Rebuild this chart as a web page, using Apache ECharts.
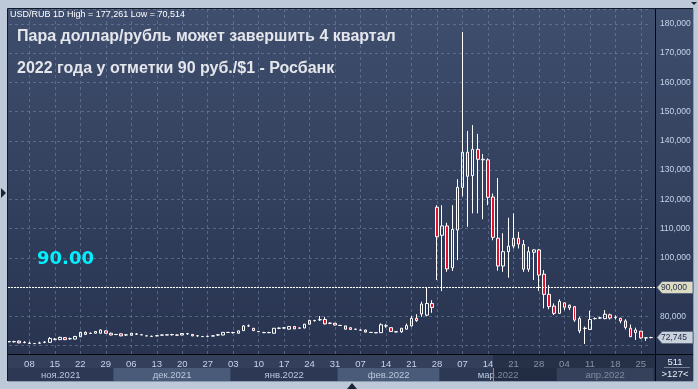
<!DOCTYPE html>
<html><head><meta charset="utf-8">
<script src="https://cdn.jsdelivr.net/npm/echarts@6/dist/echarts.min.js"></script>
<style>html,body{margin:0;padding:0;background:#bdc9d9;overflow:hidden}#c{width:698px;height:389px}</style>
</head><body><div id="c"></div>
<script>
const dates = [
'2021-11-02','2021-11-03','2021-11-04','2021-11-05','2021-11-08','2021-11-09','2021-11-10','2021-11-11','2021-11-12','2021-11-15','2021-11-16','2021-11-17','2021-11-18','2021-11-19','2021-11-22','2021-11-23','2021-11-24','2021-11-25','2021-11-26','2021-11-29','2021-11-30',
'2021-12-01','2021-12-02','2021-12-03','2021-12-06','2021-12-07','2021-12-08','2021-12-09','2021-12-10','2021-12-13','2021-12-14','2021-12-15','2021-12-16','2021-12-17','2021-12-20','2021-12-21','2021-12-22','2021-12-23','2021-12-24','2021-12-27','2021-12-28','2021-12-29','2021-12-30','2021-12-31',
'2022-01-03','2022-01-04','2022-01-05','2022-01-06','2022-01-07','2022-01-10','2022-01-11','2022-01-12','2022-01-13','2022-01-14','2022-01-17','2022-01-18','2022-01-19','2022-01-20','2022-01-21','2022-01-24','2022-01-25','2022-01-26','2022-01-27','2022-01-28','2022-01-31',
'2022-02-01','2022-02-02','2022-02-03','2022-02-04','2022-02-07','2022-02-08','2022-02-09','2022-02-10','2022-02-11','2022-02-14','2022-02-15','2022-02-16','2022-02-17','2022-02-18','2022-02-21','2022-02-22','2022-02-23','2022-02-24','2022-02-25','2022-02-28',
'2022-03-01','2022-03-02','2022-03-03','2022-03-04','2022-03-07','2022-03-08','2022-03-09','2022-03-10','2022-03-11','2022-03-14','2022-03-15','2022-03-16','2022-03-17','2022-03-18','2022-03-21','2022-03-22','2022-03-23','2022-03-24','2022-03-25','2022-03-28','2022-03-29','2022-03-30','2022-03-31',
'2022-04-01','2022-04-04','2022-04-05','2022-04-06','2022-04-07','2022-04-08','2022-04-11','2022-04-12','2022-04-13','2022-04-14','2022-04-15','2022-04-18','2022-04-19','2022-04-20','2022-04-21','2022-04-22','2022-04-25','2022-04-26','2022-04-27'
];
const openPrices = [
71.3,71.3,71.5,71.0,70.8,70.7,70.8,71.1,71.1,72.1,72.0,72.7,72.3,72.2,73.0,74.5,74.2,74.2,74.2,75.0,74.2,
73.8,74.0,73.6,73.5,73.9,73.7,73.3,73.1,73.3,73.6,73.6,73.7,73.6,73.6,74.0,73.8,73.3,73.1,73.1,73.3,73.6,73.6,74.5,
74.4,74.2,75.1,76.7,75.9,74.8,74.4,74.4,74.2,75.9,76.0,75.6,76.5,76.0,76.0,77.3,78.5,78.8,78.9,77.6,77.6,
76.9,76.7,76.1,75.6,75.3,75.3,74.5,74.4,74.4,76.7,76.1,74.7,74.7,75.6,76.7,79.3,80.8,80.4,84.4,117.3,
107.7,110.9,96.6,109.5,124.1,136.1,128.1,137.1,133.7,133.5,120.8,106.7,97.2,102.1,104.0,106.7,104.6,96.1,101.9,102.7,94.4,87.5,83.5,
81.0,84.6,83.8,83.3,79.2,75.9,75.5,79.2,79.4,79.2,80.5,79.6,79.3,78.4,75.9,74.4,74.9,72.65,72.7
];
const closePrices = [
71.3,71.35,70.9,71.1,70.75,70.65,70.85,71.15,72.4,72.2,72.8,72.0,72.35,73.1,74.5,73.8,74.15,74.8,75.3,74.2,73.6,
73.75,73.3,73.65,74.2,73.95,73.65,73.3,73.15,73.35,73.55,73.65,73.75,73.55,74.1,74.05,73.3,73.35,73.05,73.15,73.25,73.65,74.5,74.45,
74.45,75.0,76.7,76.75,75.1,74.75,74.45,74.45,75.9,75.95,76.05,76.5,75.7,75.95,77.3,78.6,78.55,78.85,77.4,77.65,77.0,
76.85,75.6,75.5,75.55,75.25,74.6,74.45,74.35,77.1,76.75,74.8,74.65,75.9,76.8,79.3,78.5,84.2,84.4,83.0,107.2,
110.9,96.2,109.7,124.1,136.1,127.9,137.1,133.7,133.5,120.7,107.0,97.2,102.1,104.0,106.7,104.7,96.1,102.1,102.7,94.1,87.5,83.3,81.0,
85.1,83.1,82.9,78.7,75.0,75.85,78.9,79.25,79.45,80.7,79.4,79.65,78.4,76.2,73.0,75.3,72.6,72.6,72.745
];
const lowPrices = [
71.2,71.0,70.8,70.8,70.7,70.55,70.7,70.8,71.0,71.8,71.9,71.9,72.0,72.1,72.9,73.6,74.0,74.1,74.1,74.1,73.5,
73.6,73.2,73.3,73.4,73.6,73.5,73.2,72.9,73.2,73.4,73.5,73.4,73.4,73.5,73.7,73.2,73.0,72.95,72.8,73.15,73.3,73.5,74.35,
74.1,74.1,75.0,76.4,75.0,74.6,74.2,74.2,74.1,75.6,75.7,75.5,75.6,75.8,75.9,77.2,78.2,78.4,77.2,77.3,76.9,
76.75,75.5,75.4,75.45,75.15,74.5,74.35,74.25,74.3,76.1,74.7,74.55,74.3,75.5,76.5,78.1,79.8,80.0,81.2,92.4,
88.6,95.2,95.5,99.2,121.0,110.6,115.2,115.2,113.2,118.0,106.0,95.6,95.2,93.2,103.2,103.2,95.2,95.2,92.4,88.7,82.7,82.4,80.4,
80.8,82.1,82.1,78.1,74.2,70.514,75.3,78.9,79.1,79.0,78.9,78.9,77.6,75.5,72.9,71.9,72.3,71.6,72.5
];
const highPrices = [
71.4,71.6,71.7,71.5,71.3,70.8,71.3,71.5,72.9,72.5,73.0,72.9,72.7,73.3,74.7,74.8,74.4,74.9,75.5,75.2,74.4,
73.9,74.1,73.9,74.3,74.2,73.8,73.4,73.4,73.4,73.7,73.7,74.0,73.7,74.2,74.3,73.9,73.6,73.2,73.4,73.4,73.9,74.6,74.6,
74.7,75.2,77.0,77.2,76.0,74.9,74.7,74.7,76.0,76.2,76.3,76.6,76.7,76.1,77.4,78.8,78.8,80.1,79.8,77.9,77.7,
77.0,76.8,76.2,75.7,75.4,75.4,74.6,74.5,77.6,77.3,76.2,74.8,76.0,77.5,80.1,80.7,85.0,89.8,85.5,118.0,
118.0,112.0,118.0,126.9,177.261,143.4,145.4,142.4,135.5,134.0,122.0,127.3,108.4,113.7,115.2,108.9,106.1,103.8,102.9,103.0,95.8,90.7,84.4,
85.8,84.7,84.0,83.5,79.8,76.5,81.9,79.6,79.8,82.1,80.9,80.3,79.5,79.0,77.2,76.1,75.0,72.7,73.0
];
const monthLabels = {'2021-11':'ноя.2021','2021-12':'дек.2021','2022-01':'янв.2022','2022-02':'фев.2022','2022-03':'мар.2022','2022-04':'апр.2022'};
const infoText = 'USD/RUB 1D High = 177,261 Low = 70,514';
const headline1 = 'Пара доллар/рубль может завершить 4 квартал';
const headline2 = '2022 года у отметки 90 руб./$1 - Росбанк';
const targetLevel = 90;
const targetText = '90.00';
const barsTotal = '511';
const barsVisible = '>127<';
const scrollStart = '2022-03-15';

const FONT = '"Liberation Sans", Arial, sans-serif';
const fmt = v => v.toFixed(3).replace('.', ',');
const isMonday = v => new Date(v + 'T00:00:00Z').getUTCDay() === 1;
const lastClose = closePrices[closePrices.length - 1];

const chart = echarts.init(document.getElementById('c'), null, {renderer:'canvas', width:698, height:389});
const gridLine = {color:'rgba(120,136,170,0.55)', type:[3,3], width:1};

chart.setOption({
  animation:false,
  backgroundColor:'#bdc9d9',
  grid:{left:9, right:47, top:9, bottom:35, containLabel:false},
  xAxis:{type:'category', data:dates, boundaryGap:false,
    axisLine:{show:false}, axisTick:{show:false},
    axisLabel:{interval:(i,v)=>isMonday(v), formatter:v=>v.slice(8), color:'#c6d3ea', fontSize:9.5, fontFamily:FONT, margin:5},
    splitLine:{show:true, interval:(i,v)=>isMonday(v), lineStyle:gridLine}},
  yAxis:{type:'value', position:'right', min:67.1, max:185.1, splitNumber:12,
    axisLine:{show:false}, axisTick:{show:false},
    axisLabel:{formatter:v=>(Math.abs(v%10)<1e-6 && Math.abs(v-lastClose)>3.5)?fmt(v):'', color:'#c6d3ea', fontSize:8.5, fontFamily:FONT, margin:9, align:'left',
      showMinLabel:false, showMaxLabel:false, overflow:'none'},
    splitLine:{show:true, lineStyle:gridLine}},
  series:[{type:'candlestick', clip:false, barWidth:3,
    data:dates.map((d,i)=>[openPrices[i], closePrices[i], lowPrices[i], highPrices[i]]),
    itemStyle:{color:'rgba(0,0,0,0)', color0:'#e3112d', borderColor:'#ffffff', borderColor0:'#ffffff', borderWidth:1}
  }]
});

const px = d => chart.convertToPixel({xAxisIndex:0}, d);
const py = v => chart.convertToPixel({yAxisIndex:0}, v);
const step = px(dates[1]) - px(dates[0]);
const L = 8, R = 655, T = 9, B = 354, AR = 693, SB = 381;
const bgGrad = new echarts.graphic.LinearGradient(0,0,0,1,[{offset:0,color:'#3f4e6d'},{offset:1,color:'#283450'}]);
const g = [];
g.push({type:'rect', z:-20, silent:true, shape:{x:L, y:T, width:AR-L, height:B-T}, style:{fill:bgGrad}});
g.push({type:'rect', z:-20, silent:true, shape:{x:L, y:B, width:R-L, height:SB-B}, style:{fill:'#333f5b'}});
g.push({type:'rect', z:-20, silent:true, shape:{x:R, y:B, width:AR-R, height:SB-B}, style:{fill:'#2a3550'}});
const groups = [];
dates.forEach((d,i)=>{const k=d.slice(0,7); if(!groups.length||groups[groups.length-1].k!==k) groups.push({k, a:i, b:i}); else groups[groups.length-1].b=i;});
groups.forEach((gr,j)=>{
  const x0 = Math.max(L, px(dates[gr.a]) - step/2), x1 = Math.min(R, px(dates[gr.b]) + step/2);
  g.push({type:'rect', z:-19, silent:true, shape:{x:x0, y:368, width:x1-x0, height:SB-368}, style:{fill: j%2 ? '#4a5a79' : '#2d3954'}});
  g.push({type:'text', z:50, silent:true, style:{text:monthLabels[gr.k], x:(x0+x1)/2, y:375, fill:'#b9c7de', font:'9.5px '+FONT, align:'center', verticalAlign:'middle'}});
});
const sx = px(scrollStart);
g.push({type:'rect', z:60, silent:true, shape:{x:sx, y:B, width:R-sx, height:SB-B}, style:{fill:'rgba(15,20,35,0.35)'}});
g.push({type:'line', z:61, silent:true, shape:{x1:sx+0.5, y1:368, x2:sx+0.5, y2:SB}, style:{stroke:'#d9822b', lineWidth:1}});
g.push({type:'line', z:70, silent:true, shape:{x1:L-0.5, y1:T-0.5, x2:AR, y2:T-0.5}, style:{stroke:'#111a28', lineWidth:1}});
g.push({type:'line', z:70, silent:true, shape:{x1:L-0.5, y1:T-0.5, x2:L-0.5, y2:SB}, style:{stroke:'#111a28', lineWidth:1}});
g.push({type:'line', z:70, silent:true, shape:{x1:L, y1:B+0.5, x2:AR, y2:B+0.5}, style:{stroke:'#05080d', lineWidth:1}});
g.push({type:'line', z:70, silent:true, shape:{x1:R+0.5, y1:T, x2:R+0.5, y2:SB}, style:{stroke:'#05080d', lineWidth:1}});
g.push({type:'line', z:70, silent:true, shape:{x1:L, y1:SB+0.5, x2:AR, y2:SB+0.5}, style:{stroke:'#8d9bb2', lineWidth:1}});
g.push({type:'line', z:70, silent:true, shape:{x1:AR+0.5, y1:T, x2:AR+0.5, y2:SB}, style:{stroke:'#8d9bb2', lineWidth:1}});
const y90 = Math.round(py(targetLevel)) + 0.5;
g.push({type:'line', z:40, silent:true, shape:{x1:L, y1:y90, x2:R, y2:y90}, style:{stroke:'#ffffff', lineWidth:1, lineDash:[2,1]}});
function tag(v, fill){
  const y = Math.round(py(v)) + 0.5;
  g.push({type:'polygon', z:80, silent:true, shape:{points:[[R+2,y],[R+7,y-6],[AR,y-6],[AR,y+6],[R+7,y+6]]}, style:{fill, stroke:'#5c6a80', lineWidth:1}});
  g.push({type:'text', z:81, silent:true, style:{text:fmt(v), x:R+6, y:y+0.5, fill:'#1d2a45', font:'8.5px '+FONT, align:'left', verticalAlign:'middle'}});
}
tag(targetLevel, '#dcdcc4');
tag(lastClose, '#c9d1dd');
g.push({type:'text', z:81, silent:true, style:{text:barsTotal, x:(R+AR)/2+1, y:362, fill:'#e8edf6', font:'9.5px '+FONT, align:'center', verticalAlign:'middle'}});
g.push({type:'line', z:81, silent:true, shape:{x1:R+9, y1:367.5, x2:AR-3, y2:367.5}, style:{stroke:'#6f7d96', lineWidth:1}});
g.push({type:'text', z:81, silent:true, style:{text:barsVisible, x:(R+AR)/2+1, y:374.5, fill:'#e8edf6', font:'9.5px '+FONT, align:'center', verticalAlign:'middle'}});
g.push({type:'text', z:90, silent:true, style:{text:infoText, x:10, y:15, fill:'#ffffff', font:'9px '+FONT, align:'left', verticalAlign:'middle'}});
g.push({type:'text', z:90, silent:true, style:{text:headline1, x:17, y:37, fill:'#e4e6ec', font:'bold 16px '+FONT, align:'left', verticalAlign:'middle'}});
g.push({type:'text', z:90, silent:true, style:{text:headline2, x:17, y:69, fill:'#e4e6ec', font:'bold 16px '+FONT, align:'left', verticalAlign:'middle'}});
g.push({type:'text', z:90, silent:true, style:{text:targetText, x:37, y:259.5, fill:'#00f0ff', font:'bold 18px "DejaVu Sans", sans-serif', align:'left', verticalAlign:'middle'}});
g.push({type:'polygon', z:90, silent:true, shape:{points:[[1,188],[6,193],[1,198]]}, style:{fill:'#1c2433'}});
g.push({type:'polygon', z:90, silent:true, shape:{points:[[347,389],[352,383],[357,389]]}, style:{fill:'#1c2433'}});
g.push({type:'polygon', z:90, silent:true, shape:{points:[[691,2],[697,2],[694,5]]}, style:{fill:'#1c2433'}});
chart.setOption({graphic:g});
</script></body></html>
